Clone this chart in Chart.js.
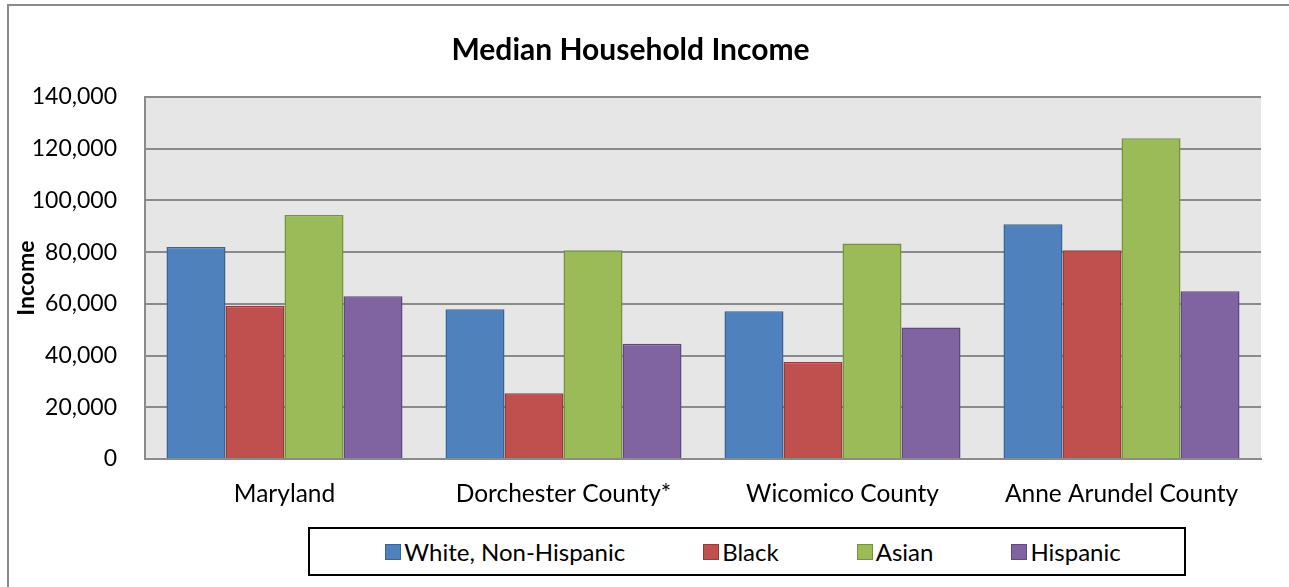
<!DOCTYPE html>
<html>
<head>
<meta charset="utf-8">
<title>Median Household Income</title>
<script src="https://cdn.jsdelivr.net/npm/chart.js@4.4.1/dist/chart.umd.min.js"></script>
<style>
  html, body { margin:0; padding:0; background:#fff; overflow:hidden; }
  #frame { position:absolute; left:7px; top:4px; width:1400px; height:700px; border:2px solid #8a8a8a; }
  #wrap { position:absolute; left:0; top:0; width:1289px; height:587px; }
  #legend {
    position:absolute; left:308px; top:527px; width:862px; height:45px;
    border:2px solid #000; background:#fff;
    display:flex; align-items:center; justify-content:center; gap:78px;
    padding-left:12px; box-sizing:content-box;
    font-family: Lato, 'DejaVu Sans', sans-serif; font-size:24px; color:#000;
  }
  #legend .item { display:flex; align-items:center; gap:3px; white-space:nowrap; }
  #legend .sw { width:14px; height:14px; border:1px solid; display:inline-block; }
</style>
</head>
<body>
<div id="frame"></div>
<div id="wrap"><canvas id="chartIncome"></canvas></div>
<div id="legend"></div>
<script>
// ---------- DATA ----------
const categories = ["Maryland", "Dorchester County*", "Wicomico County", "Anne Arundel County"];
const seriesNames = ["White, Non-Hispanic", "Black", "Asian", "Hispanic"];
const whiteNonHispanic = [82000, 57900, 57100, 90750];
const black            = [59300, 25400, 37500, 80700];
const asian            = [94400, 80700, 83300, 124000];
const hispanic         = [62900, 44600, 50900, 64850];
const yTicks = [0, 20000, 40000, 60000, 80000, 100000, 120000, 140000];

// ---------- STYLE ----------
const FONT = "Lato, 'DejaVu Sans', sans-serif";
const fills   = ["#4F81BD", "#C0504D", "#9BBB59", "#8064A2"];
const borders = ["#3A6395", "#943C3A", "#76923F", "#5F4A7D"];
const seriesData = [whiteNonHispanic, black, asian, hispanic];

// grey plot background behind grid and bars
const plotBg = {
  id: "plotBg",
  beforeDraw(chart){
    const {ctx, chartArea:a} = chart;
    ctx.save();
    ctx.fillStyle = "#E6E6E6";
    ctx.fillRect(a.left, a.top, a.right - a.left, a.bottom - a.top);
    ctx.restore();
  }
};

const chart = new Chart(document.getElementById("chartIncome"), {
  type: "bar",
  data: {
    labels: categories,
    datasets: seriesNames.map((name, i) => ({
      label: name,
      data: seriesData[i],
      backgroundColor: fills[i],
      borderColor: borders[i],
      borderWidth: 1.5,
      categoryPercentage: 0.846,
      barPercentage: 1.0
    }))
  },
  options: {
    responsive: true,
    maintainAspectRatio: false,
    animation: false,
    layout: { padding: { left: 0, right: 28, top: 0, bottom: 68 } },
    plugins: {
      title: {
        display: true,
        text: "Median Household Income",
        color: "#000",
        font: { family: FONT, size: 30, weight: "bold" },
        padding: { top: 32, bottom: 29 }
      },
      legend: { display: false },
      tooltip: { enabled: false }
    },
    scales: {
      x: {
        grid: { display: false },
        border: { display: true, color: "#8a8a8a", width: 2 },
        ticks: { color: "#000", font: { family: FONT, size: 24.5 }, padding: 12, maxRotation: 0 },
        afterFit(scale){ scale.height = 60; }
      },
      y: {
        min: 0,
        max: 140000,
        afterBuildTicks(scale){ scale.ticks = yTicks.map(v => ({ value: v })); },
        grid: { color: "#8a8a8a", lineWidth: 2, drawTicks: false },
        border: { display: true, color: "#8a8a8a", width: 2 },
        ticks: {
          color: "#000",
          font: { family: FONT, size: 23 },
          padding: 28,
          callback: v => v.toLocaleString("en-US")
        },
        title: {
          display: true,
          text: "Income",
          color: "#000",
          font: { family: FONT, size: 23, weight: "bold" },
          padding: { top: 13, bottom: 0 }
        },
        afterFit(scale){ scale.width = 145; }
      }
    }
  },
  plugins: [plotBg]
});

// legend row built from the same series
const legendEl = document.getElementById("legend");
chart.data.datasets.forEach(ds => {
  const item = document.createElement("span");
  item.className = "item";
  const sw = document.createElement("span");
  sw.className = "sw";
  sw.style.background = ds.backgroundColor;
  sw.style.borderColor = ds.borderColor;
  item.appendChild(sw);
  item.appendChild(document.createTextNode(ds.label));
  legendEl.appendChild(item);
});
</script>
</body>
</html>
